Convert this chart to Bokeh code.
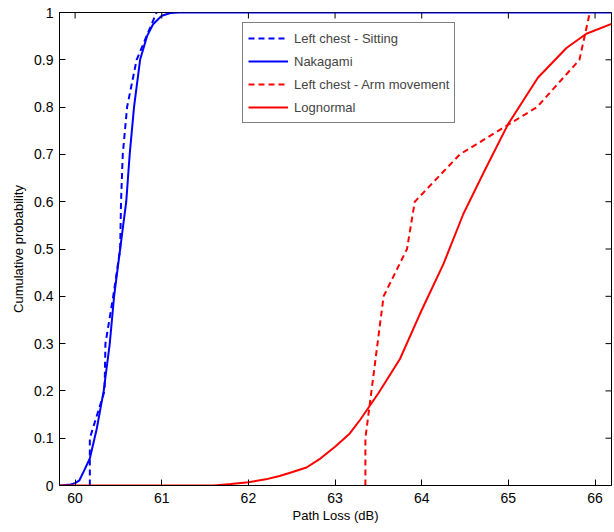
import math
from bokeh.plotting import figure
from bokeh.models import FixedTicker, Legend, LegendItem, Range1d
from bokeh.embed import file_html
from bokeh.resources import INLINE

# ---- data ----
sit_x = [60.17, 60.17, 60.34, 60.35, 60.44, 60.52, 60.53, 60.55, 60.60, 60.71, 60.94]
sit_y = [0.0, 0.1, 0.2, 0.3, 0.4, 0.5, 0.6, 0.7, 0.8, 0.9, 1.0]

nak_x = [59.82, 59.95, 60.0, 60.05, 60.1, 60.17, 60.25, 60.33, 60.40, 60.45, 60.52,
         60.59, 60.63, 60.68, 60.75, 60.83, 60.9, 61.0, 61.1, 61.2, 66.19]
nak_y = [0.0, 0.002, 0.005, 0.011, 0.03, 0.057, 0.12, 0.2, 0.3, 0.4, 0.5,
         0.6, 0.7, 0.8, 0.9, 0.95, 0.975, 0.993, 0.999, 1.0, 1.0]

arm_x = [63.35, 63.35, 63.56, 63.83, 63.92, 64.44, 65.33, 65.82, 65.94]
arm_y = [0.0, 0.1, 0.4, 0.5, 0.6, 0.7, 0.8, 0.9, 1.0]

logn_x = [59.82, 61.6, 61.8, 62.0, 62.2, 62.36, 62.5, 62.67, 62.83, 63.0, 63.17, 63.29,
          63.5, 63.75, 63.98, 64.25, 64.48, 64.71, 65.0, 65.34, 65.67, 65.9, 66.19]
logn_y = [0.0, 0.0, 0.003, 0.007, 0.013, 0.02, 0.028, 0.038, 0.057, 0.082, 0.11, 0.139,
          0.195, 0.268, 0.363, 0.468, 0.574, 0.66, 0.765, 0.862, 0.925, 0.955, 0.976]

x_min, x_max = 59.82, 66.19
y_min, y_max = 0.0, 1.0

x_ticks = [60, 61, 62, 63, 64, 65, 66]
x_tick_labels = ["60", "61", "62", "63", "64", "65", "66"]
y_ticks = [0.0, 0.1, 0.2, 0.3, 0.4, 0.5, 0.6, 0.7, 0.8, 0.9, 1.0]
y_tick_labels = ["0", "0.1", "0.2", "0.3", "0.4", "0.5", "0.6", "0.7", "0.8", "0.9", "1"]

legend_labels = ["Left chest - Sitting", "Nakagami", "Left chest - Arm movement", "Lognormal"]

FONT = "Liberation Sans"
BLUE = "#0000FF"
RED = "#FF0000"

p = figure(width=613, height=530, output_backend="svg", toolbar_location=None,
           x_range=Range1d(x_min, x_max), y_range=Range1d(y_min, y_max),
           min_border_left=59, min_border_right=2, min_border_top=12, min_border_bottom=45)
p.xgrid.visible = False
p.ygrid.visible = False
p.outline_line_color = "black"
p.outline_line_width = 1
p.background_fill_color = "white"
p.border_fill_color = "white"

r1 = p.line(sit_x, sit_y, line_color=BLUE, line_width=2, line_dash="6 4")
r2 = p.line(nak_x, nak_y, line_color=BLUE, line_width=2)
r3 = p.line(arm_x, arm_y, line_color=RED, line_width=2, line_dash="6 4")
r4 = p.line(logn_x, logn_y, line_color=RED, line_width=2)

# box ticks on the top and right edges (only the inner half is visible, frame clips)
p.scatter(x=x_ticks, y=[y_max] * len(x_ticks), marker="dash", angle=math.pi / 2,
          size=12, line_color="black", line_width=1)
p.scatter(x=[x_max] * len(y_ticks), y=y_ticks, marker="dash",
          size=12, line_color="black", line_width=1)

def style(ax):
    ax.major_tick_in = 6
    ax.major_tick_out = 0
    ax.minor_tick_line_color = None
    ax.axis_line_color = "black"
    ax.major_tick_line_color = "black"
    ax.major_label_text_font = FONT
    ax.major_label_text_font_size = "14px"
    ax.major_label_text_color = "black"
    ax.axis_label_text_font = FONT
    ax.axis_label_text_font_size = "13px"
    ax.axis_label_text_font_style = "normal"
    ax.axis_label_text_color = "black"

xax = p.xaxis[0]
yax = p.yaxis[0]
xax.ticker = FixedTicker(ticks=x_ticks)
yax.ticker = FixedTicker(ticks=y_ticks)
xax.major_label_overrides = dict(zip(x_ticks, x_tick_labels))
yax.major_label_overrides = dict(zip(y_ticks, y_tick_labels))
style(xax)
style(yax)
xax.axis_label = "Path Loss (dB)"
yax.axis_label = "Cumulative probability"
xax.major_label_standoff = 7
xax.axis_label_standoff = 2
yax.major_label_standoff = 6
yax.axis_label_standoff = 5

legend = Legend(items=[LegendItem(label=legend_labels[0], renderers=[r1]),
                       LegendItem(label=legend_labels[1], renderers=[r2]),
                       LegendItem(label=legend_labels[2], renderers=[r3]),
                       LegendItem(label=legend_labels[3], renderers=[r4])],
                location=(183, 362))
legend.border_line_color = "black"
legend.border_line_width = 1
legend.background_fill_alpha = 1
legend.label_text_font = FONT
legend.label_text_font_size = "13px"
legend.glyph_width = 40
legend.glyph_height = 20
legend.label_height = 20
legend.spacing = 3
legend.padding = 5
legend.margin = 0
legend.label_standoff = 6
p.add_layout(legend, "center")

open("out.html", "w").write(file_html(p, INLINE))
